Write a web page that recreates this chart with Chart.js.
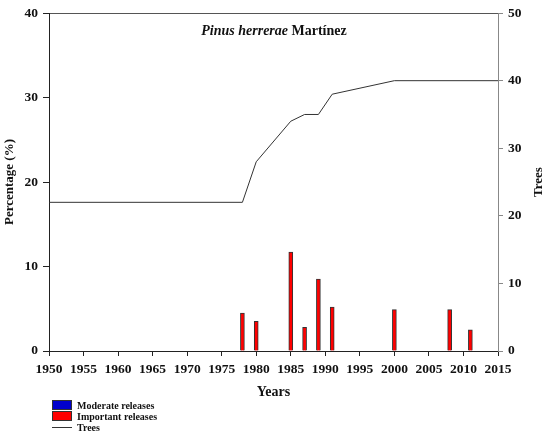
<!DOCTYPE html>
<html>
<head>
	<meta charset="utf-8">
	<title>Pinus herrerae</title>
	<script src="https://cdn.jsdelivr.net/npm/chart.js@4.4.1/dist/chart.umd.min.js"></script>
	<style>
		body { margin: 0; background: #fff; }
		#wrap { position: relative; width: 550px; height: 439px; }
		#leyenda { position: absolute; left: 52px; top: 400px; font: bold 10px "Liberation Serif", serif; color: #111; }
		#leyenda div { height: 11px; line-height: 11px; white-space: nowrap; }
		#leyenda span.caja { display: inline-block; width: 18px; height: 8px; border: 1px solid #333; vertical-align: -1px; margin-right: 5px; }
		#leyenda span.linea { display: inline-block; width: 20px; height: 0; border-top: 1px solid #333; vertical-align: 3px; margin-right: 5px; }
	</style>
</head>
<body>
	<div id="wrap">
		<canvas id="chart"></canvas>
		<div id="leyenda"></div>
	</div>
	<script>
		// liberaciones (%) por año
		var releaseYears = [1978, 1980, 1985, 1987, 1989, 1991, 2000, 2008, 2011];
		var importantReleases = [4.5, 3.5, 11.7, 2.8, 8.5, 5.2, 4.9, 4.9, 2.5];
		var moderateReleases = [];

		// numero de arboles
		var treeYears = [1950, 1978, 1980, 1985, 1987, 1989, 1991, 2000, 2015];
		var treeCounts = [22, 22, 28, 34, 35, 35, 38, 40, 40];

		var fuente = "'Liberation Serif', serif";

		function puntos(xs, ys) {
			var out = [];
			for (var i = 0; i < ys.length; i++) {
				out.push({x: xs[i], y: ys[i]});
			}
			return out;
		}

		var _datasets = [
			{
				label: "Moderate releases",
				type: "bar",
				backgroundColor: "#0000cc",
				borderColor: "#333",
				borderWidth: 1,
				data: puntos(releaseYears, moderateReleases)
			},
			{
				label: "Important releases",
				type: "bar",
				backgroundColor: "#ff0000",
				borderColor: "#333",
				borderWidth: 1,
				data: puntos(releaseYears, importantReleases)
			},
			{
				label: "Trees",
				type: "line",
				yAxisID: "y1",
				borderColor: "#333",
				borderWidth: 1,
				pointRadius: 0,
				fill: false,
				tension: 0,
				data: puntos(treeYears, treeCounts)
			}
		];

		var textos = {
			id: "textos",
			afterDraw: function(chart) {
				var ctx = chart.ctx;
				var area = chart.chartArea;
				ctx.save();
				ctx.fillStyle = "#111";
				ctx.textBaseline = "alphabetic";
				// titulo dentro del grafico
				var t1 = "Pinus herrerae ";
				var t2 = "Martínez";
				ctx.font = "italic bold 14px " + fuente;
				var w1 = ctx.measureText(t1).width;
				ctx.font = "bold 14px " + fuente;
				var w2 = ctx.measureText(t2).width;
				var x0 = 274 - (w1 + w2) / 2;
				ctx.font = "italic bold 14px " + fuente;
				ctx.fillText(t1, x0, 35);
				ctx.font = "bold 14px " + fuente;
				ctx.fillText(t2, x0 + w1, 35);
				// titulo eje derecho
				ctx.translate(539, (area.top + area.bottom) / 2);
				ctx.rotate(-Math.PI / 2);
				ctx.textAlign = "center";
				ctx.textBaseline = "middle";
				ctx.font = "bold 13px " + fuente;
				ctx.fillText("Trees", 0, 0);
				ctx.restore();
			}
		};

		function sinComa(v) { return String(v); }

		var canvas = document.getElementById("chart").getContext("2d");
		window.bar = new Chart(canvas, {
			type: "bar",
			data: { datasets: _datasets },
			plugins: [textos],
			options: {
				responsive: true,
				maintainAspectRatio: false,
				animation: false,
				layout: { padding: 0 },
				datasets: { bar: { grouped: false, barThickness: 4 } },
				plugins: {
					legend: { display: false },
					tooltip: { enabled: false }
				},
				scales: {
					x: {
						type: "linear",
						position: "bottom",
						min: 1950,
						max: 2015,
						offset: false,
						ticks: { stepSize: 5, autoSkip: false, maxRotation: 0, minRotation: 0, callback: sinComa, color: "#111", padding: 5, font: { family: fuente, size: 13.5, weight: "bold" } },
						grid: { offset: false, drawOnChartArea: false, tickLength: 5, tickColor: "#222" },
						border: { color: "#222", width: 1 },
						title: { display: true, text: "Years", color: "#111", padding: { top: 0, bottom: 38 }, font: { family: fuente, size: 14, weight: "bold" } },
						afterFit: function(s) { s.height = 88; }
					},
					xTop: {
						type: "linear",
						position: "top",
						min: 1950,
						max: 2015,
						ticks: { display: false },
						grid: { display: false },
						border: { color: "#555", width: 1 },
						afterFit: function(s) { s.height = 11; }
					},
					y: {
						position: "left",
						min: 0,
						max: 40,
						ticks: { stepSize: 10, callback: sinComa, color: "#111", padding: 5, font: { family: fuente, size: 13.5, weight: "bold" } },
						grid: { drawOnChartArea: false, tickLength: 6, tickColor: "#222" },
						border: { color: "#222", width: 1 },
						title: { display: true, text: "Percentage (%)", color: "#111", padding: { top: 2, bottom: 0 }, font: { family: fuente, size: 13, weight: "bold" } },
						afterFit: function(s) { s.width = 49; }
					},
					y1: {
						position: "right",
						min: 0,
						max: 50,
						ticks: { stepSize: 10, callback: sinComa, color: "#111", padding: 5, font: { family: fuente, size: 13.5, weight: "bold" } },
						grid: { drawOnChartArea: false, tickLength: 5, tickColor: "#888" },
						border: { color: "#888", width: 1 },
						afterFit: function(s) { s.width = 52; }
					}
				}
			}
		});

		// leyenda abajo, una entrada por fila
		var leyenda = document.getElementById("leyenda");
		_datasets.forEach(function(d) {
			var fila = document.createElement("div");
			var marca = document.createElement("span");
			if (d.type == "line") {
				marca.className = "linea";
			} else {
				marca.className = "caja";
				marca.style.background = d.backgroundColor;
			}
			fila.appendChild(marca);
			fila.appendChild(document.createTextNode(d.label));
			leyenda.appendChild(fila);
		});
	</script>
</body>
</html>
